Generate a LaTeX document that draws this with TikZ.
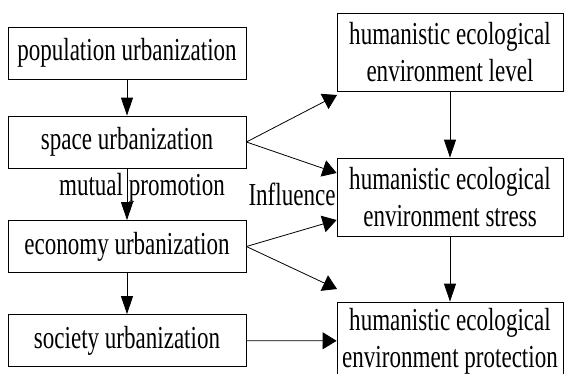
\documentclass[tikz,border=0pt]{standalone}
\usepackage{fontspec}
\setmainfont[FakeStretch=0.72]{Liberation Serif}
\usetikzlibrary{arrows.meta}

\begin{document}
\begin{tikzpicture}[
  x=1pt,y=-1pt,
  box/.style={draw,line width=0.8pt,inner sep=0pt,align=center,
    font=\fontsize{32}{37}\selectfont},
  stage/.style={box,minimum width=238pt,minimum height=52pt},
  effect/.style={box,minimum width=226pt,minimum height=78pt},
  down/.style={-{Triangle[length=18pt,width=12pt]},line width=0.8pt},
  side/.style={-{Triangle[length=14pt,width=17pt]},line width=0.8pt},
  lab/.style={font=\fontsize{32}{37}\selectfont,inner sep=0pt,anchor=base}
]
  \useasboundingbox (0,0) rectangle (565,373);

  % urbanization column
  \node[stage] (pop) at (127,53) {population urbanization};
  \node[stage] (space) at (127,142) {space urbanization};
  \node[stage] (econ) at (127,246.5) {economy urbanization};
  \node[stage] (soc) at (127,340.5) {society urbanization};

  % environment column
  \node[effect] (level) at (450,52.5) {humanistic ecological\\environment level};
  \node[effect] (stress) at (450,197) {humanistic ecological\\environment stress};
  \node[effect] (protect) at (450,341) {humanistic ecological\\environment protection};

  \node[lab] (mutual) at (142,195) {mutual promotion};
  \node[lab] (infl) at (292,205) {Influence};

  \coordinate (up) at (337,95);
  \coordinate (low) at (337,289);

  \draw[down] (pop) -- (space);
  \draw[down] (space) -- (econ);
  \draw[down] (econ) -- (soc);
  \draw[down] (level) -- (stress);
  \draw[down] (stress) -- (protect);

  \draw[side] (space.east) -- (up);
  \draw[side] (space.east) -- ([yshift=24pt]stress.west);
  \draw[side] (econ.east) -- ([yshift=-23pt]stress.west);
  \draw[side] (econ.east) -- (low);
  \draw[side] (soc) -- (protect);
\end{tikzpicture}
\end{document}
